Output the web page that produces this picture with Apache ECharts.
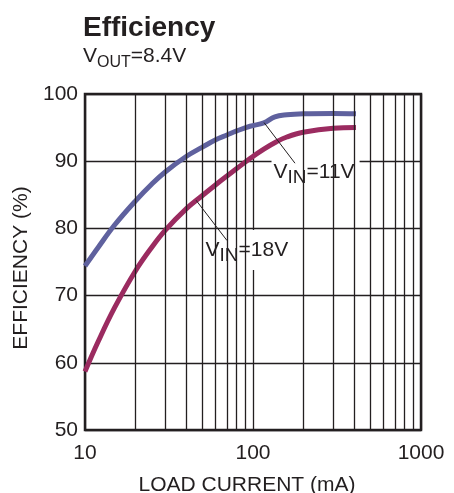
<!DOCTYPE html>
<html>
<head>
<meta charset="utf-8">
<script src="https://cdn.jsdelivr.net/npm/echarts@6/dist/echarts.min.js"></script>
<style>
html,body{margin:0;padding:0;background:#fff;}
#c{width:454px;height:493px;}
</style>
</head>
<body>
<div id="c"></div>
<script>
// Data
const vin11Current = [10, 12, 15, 20, 25, 30, 40, 50, 60, 70, 80, 96, 116, 135, 159, 199, 300, 410];
const vin11Eff     = [74.4, 77.2, 80.5, 84.1, 86.6, 88.4, 90.7, 92.1, 93.2, 93.9, 94.5, 95.2, 95.7, 96.6, 96.9, 97.05, 97.1, 97.05];
const vin18Current = [10, 12, 15, 20, 25, 30, 40, 50, 60, 70, 80, 96, 116, 138, 159, 199, 300, 410];
const vin18Eff     = [58.7, 63.2, 68.2, 73.7, 77.2, 79.7, 82.9, 84.9, 86.5, 87.8, 88.9, 90.4, 91.8, 92.9, 93.6, 94.3, 94.9, 95.0];
const xMinorGrid   = [20, 30, 40, 50, 60, 70, 80, 90, 200, 300, 400, 500, 600, 700, 800, 900];
const yTickValues  = [50, 60, 70, 80, 90, 100];

const FONT = 'Liberation Sans, Arial, Helvetica, sans-serif';
const INK = '#231f20';
const BLUE = '#5f619e';
const RED = '#9b2b60';

const chart = echarts.init(document.getElementById('c'), null, {renderer: 'canvas'});

const subRich = {
  v: {fontSize: 21, fontFamily: FONT, fontWeight: 'normal', color: INK, lineHeight: 30},
  s: {fontSize: 19, fontFamily: FONT, fontWeight: 'normal', color: INK, lineHeight: 19, padding: [11, 0, 0, 0], verticalAlign: 'bottom'},
  o: {fontSize: 16, fontFamily: FONT, fontWeight: 'normal', color: INK, lineHeight: 16, padding: [12, 0, 0, 0], verticalAlign: 'bottom'}
};

function pairs(xs, ys) { return xs.map((x, i) => [x, ys[i]]); }

const option = {
  animation: false,
  backgroundColor: '#fff',
  title: [
    {text: 'Efficiency', left: 78, top: 9,
     textStyle: {fontSize: 28, fontWeight: 'bold', fontFamily: FONT, color: INK}},
    {text: '{v|V}{o|OUT}{v|=8.4V}', left: 78, top: 36,
     textStyle: {fontWeight: 'normal', rich: subRich}}
  ],
  grid: {left: 85, top: 94, width: 336, height: 336, show: true,
         containLabel: false, outerBoundsMode: 'none',
         borderColor: INK, borderWidth: 2.5, backgroundColor: 'transparent'},
  xAxis: {
    type: 'log', logBase: 10, min: 10, max: 1000,
    name: 'LOAD CURRENT (mA)', nameLocation: 'middle', nameGap: 45,
    nameTextStyle: {fontSize: 21, fontFamily: FONT, color: INK, padding: [0, 12, 0, 0]},
    axisLine: {show: false}, axisTick: {show: false},
    axisLabel: {fontSize: 21, fontFamily: FONT, color: INK, margin: 13,
                formatter: v => String(Math.round(v))},
    splitLine: {show: true, lineStyle: {color: INK, width: 1.3}},
    minorTick: {show: false}, minorSplitLine: {show: false}
  },
  yAxis: {
    type: 'value', min: 50, max: 100, interval: 10,
    name: 'EFFICIENCY (%)', nameLocation: 'middle', nameGap: 52,
    nameTextStyle: {fontSize: 21, fontFamily: FONT, color: INK, padding: [0, 12, 0, 0]},
    axisLine: {show: false}, axisTick: {show: false},
    axisLabel: {fontSize: 21, fontFamily: FONT, color: INK, margin: 7,
                formatter: v => (yTickValues.indexOf(v) >= 0 ? String(v) : '')},
    splitLine: {show: true, lineStyle: {color: INK, width: 1.3}}
  },
  series: [
    {
      type: 'line', data: [], z: 1, silent: true,
      markLine: {
        silent: true, symbol: 'none', animation: false,
        label: {show: false},
        lineStyle: {color: INK, width: 1.3, type: 'solid'},
        data: xMinorGrid.map(v => ({xAxis: v}))
      }
    },
    {
      name: 'VIN=11V', type: 'line', z: 3, smooth: 0.4, symbol: 'none',
      lineStyle: {color: BLUE, width: 5, cap: 'butt'},
      data: pairs(vin11Current, vin11Eff)
    },
    {
      name: 'VIN=18V', type: 'line', z: 3, smooth: 0.4, symbol: 'none',
      lineStyle: {color: RED, width: 5, cap: 'butt'},
      data: pairs(vin18Current, vin18Eff)
    },
    {
      type: 'scatter', z: 4, symbolSize: 1, silent: true,
      itemStyle: {color: '#fff', opacity: 1},
      label: {
        show: true, position: 'right', distance: 0, color: INK,
        textBorderWidth: 0, opacity: 1,
        backgroundColor: '#fff', padding: [5, 5, 5, 2],
        formatter: p => p.data.t, rich: subRich
      },
      data: [
        {value: [128, 88.4], t: '{v|V}{s|IN}{v|=11V}'},
        {value: [50.4, 76.8], t: '{v|V}{s|IN}{v|=18V}'}
      ]
    },
    {
      type: 'line', data: [], z: 5, silent: true,
      markLine: {
        silent: true, symbol: 'none', animation: false,
        label: {show: false},
        lineStyle: {color: INK, width: 1, type: 'solid'},
        data: [
          [{coord: [116.3, 95.75]}, {coord: [177.8, 89.7]}],
          [{coord: [45.8, 84.2]}, {coord: [70.0, 78.2]}]
        ]
      }
    }
  ]
};
chart.setOption(option);
</script>
</body>
</html>
